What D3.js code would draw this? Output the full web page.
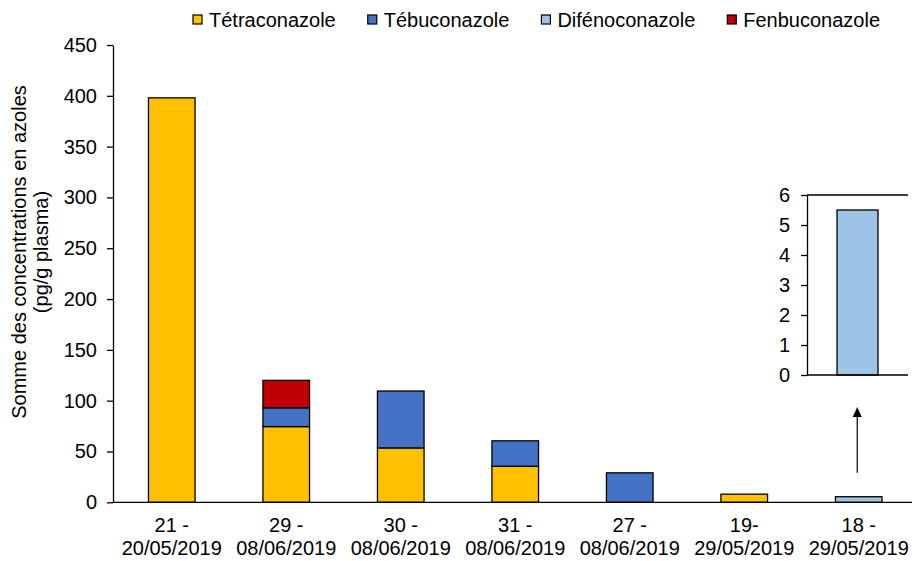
<!DOCTYPE html>
<html>
<head>
<meta charset="utf-8">
<script src="https://cdn.jsdelivr.net/npm/d3@7"></script>
<style>
  html, body { margin: 0; padding: 0; background: #fff; }
  svg { display: block; }
  text { font-family: "Liberation Sans", Arial, sans-serif; fill: #000; }
</style>
</head>
<body>
<svg id="chart" width="912" height="561"></svg>
<script>
// Sampling periods (two-line labels)
const periodStart = ["21 -", "29 -", "30 -", "31 -", "27 -", "19-", "18 -"];
const periodEnd = ["20/05/2019", "08/06/2019", "08/06/2019", "08/06/2019", "08/06/2019", "29/05/2019", "29/05/2019"];

// Azole concentrations (pg/g plasma) per period
const seriesNames = ["Tétraconazole", "Tébuconazole", "Difénoconazole", "Fenbuconazole"];
const tetraconazole = [398, 74.5, 53.5, 35.5, 0, 8, 0];
const tebuconazole = [0, 18.5, 56, 25, 29, 0, 0];
const difenoconazole = [0, 0, 0, 0, 0, 0, 5.5];
const fenbuconazole = [0, 27, 0, 0, 0, 0, 0];
const seriesColors = ["#FFC000", "#4472C4", "#9DC3E6", "#C00000"];

// Axis ticks
const mainTicks = [0, 50, 100, 150, 200, 250, 300, 350, 400, 450];
const insetTicks = [0, 1, 2, 3, 4, 5, 6];
const insetIndex = 6; // period zoomed in the inset

const rows = periodEnd.map((d, i) => ({
  key: i,
  "Tétraconazole": tetraconazole[i],
  "Tébuconazole": tebuconazole[i],
  "Difénoconazole": difenoconazole[i],
  "Fenbuconazole": fenbuconazole[i]
}));

const svg = d3.select("#chart");
const FONT = 20;

const plotLeft = 113, plotRight = 912, plotTop = 45, plotBottom = 502.3;

const pad = 0.593;
const x = d3.scaleBand().domain(d3.range(periodEnd.length)).range([114.5, 916])
  .paddingInner(pad).paddingOuter(pad / 2);
const y = d3.scaleLinear().domain([0, 450]).range([plotBottom, plotTop]);
const color = d3.scaleOrdinal().domain(seriesNames).range(seriesColors);

const stacked = d3.stack().keys(seriesNames)(rows);

// Stacked bars
const g = svg.append("g");
stacked.forEach(layer => {
  g.selectAll(null)
    .data(layer.filter(d => d[1] - d[0] > 0))
    .join("rect")
    .attr("x", d => x(d.data.key))
    .attr("width", x.bandwidth())
    .attr("y", d => y(d[1]))
    .attr("height", d => y(d[0]) - y(d[1]))
    .attr("fill", color(layer.key))
    .attr("stroke", "#000")
    .attr("stroke-width", 1.3);
});

// Y axis
const yAxis = svg.append("g").attr("transform", `translate(${plotLeft},0)`)
  .call(d3.axisLeft(y).tickValues(mainTicks).tickSize(6).tickPadding(10).tickSizeOuter(0));
yAxis.select(".domain").attr("stroke", "#000").attr("stroke-width", 1.3);
yAxis.selectAll(".tick line").attr("stroke", "#000").attr("stroke-width", 1.3);
yAxis.selectAll(".tick text").attr("font-size", FONT).attr("font-family", null);

// X axis line
svg.append("line")
  .attr("x1", plotLeft).attr("x2", plotRight)
  .attr("y1", y(0)).attr("y2", y(0))
  .attr("stroke", "#000").attr("stroke-width", 1.3);

// X labels (two lines)
const xl = svg.append("g").selectAll("text").data(periodEnd.map((d, i) => i)).join("text")
  .attr("text-anchor", "middle")
  .attr("font-size", FONT)
  .attr("x", i => x(i) + x.bandwidth() / 2);
xl.append("tspan").attr("x", i => x(i) + x.bandwidth() / 2).attr("y", 532).text(i => periodStart[i]);
xl.append("tspan").attr("x", i => x(i) + x.bandwidth() / 2).attr("y", 555).text(i => periodEnd[i]);

// Y axis title
const title = svg.append("text")
  .attr("transform", `translate(0,${252}) rotate(-90)`)
  .attr("text-anchor", "middle")
  .attr("font-size", FONT);
title.append("tspan").attr("x", 0).attr("y", 25.5).text("Somme des concentrations en azoles");
title.append("tspan").attr("x", 0).attr("y", 48).text("(pg/g plasma)");

// Inset: zoom on the smallest value
const insetLeft = 807, insetRight = 908;
const yi = d3.scaleLinear().domain([0, 6]).range([375, 195]);
const xi = d3.scaleBand().domain([insetIndex]).range([insetLeft, insetRight]).paddingInner(0.59).paddingOuter(0.3);

const inset = svg.append("g");
inset.selectAll("rect").data([rows[insetIndex]]).join("rect")
  .attr("x", d => xi(d.key))
  .attr("width", xi.bandwidth())
  .attr("y", d => yi(d["Difénoconazole"]))
  .attr("height", d => yi(0) - yi(d["Difénoconazole"]))
  .attr("fill", color("Difénoconazole"))
  .attr("stroke", "#000")
  .attr("stroke-width", 1.3);

const iAxis = inset.append("g").attr("transform", `translate(${insetLeft},0)`)
  .call(d3.axisLeft(yi).tickValues(insetTicks).tickFormat(d3.format("d"))
    .tickSize(6).tickPadding(11).tickSizeOuter(0));
iAxis.select(".domain").attr("stroke", "#000").attr("stroke-width", 1.3);
iAxis.selectAll(".tick line").attr("stroke", "#000").attr("stroke-width", 1.3);
iAxis.selectAll(".tick text").attr("font-size", FONT).attr("font-family", null);

[0, 6].forEach(v => {
  inset.append("line")
    .attr("x1", insetLeft).attr("x2", insetRight)
    .attr("y1", yi(v)).attr("y2", yi(v))
    .attr("stroke", "#000").attr("stroke-width", 1.3);
});

// Arrow from the small bar up to the inset
const ax = x(insetIndex) + x.bandwidth() / 2 - 1.5;
const aStart = y(difenoconazole[insetIndex]) - 24;
const aTip = yi(0) + 32;
svg.append("line")
  .attr("x1", ax).attr("x2", ax)
  .attr("y1", aStart).attr("y2", aTip + 9)
  .attr("stroke", "#000").attr("stroke-width", 1.2);
svg.append("path")
  .attr("d", `M${ax},${aTip} L${ax - 4.5},${aTip + 10} L${ax + 4.5},${aTip + 10} Z`)
  .attr("fill", "#000");

// Legend
const legend = svg.append("g");
let lx = 193;
seriesNames.forEach(name => {
  legend.append("rect")
    .attr("x", lx).attr("y", 15).attr("width", 9).attr("height", 9)
    .attr("fill", color(name)).attr("stroke", "#000").attr("stroke-width", 1.2);
  const t = legend.append("text")
    .attr("x", lx + 16).attr("y", 27)
    .attr("font-size", FONT)
    .text(name);
  lx += 16 + t.node().getComputedTextLength() + 32;
});
</script>
</body>
</html>
